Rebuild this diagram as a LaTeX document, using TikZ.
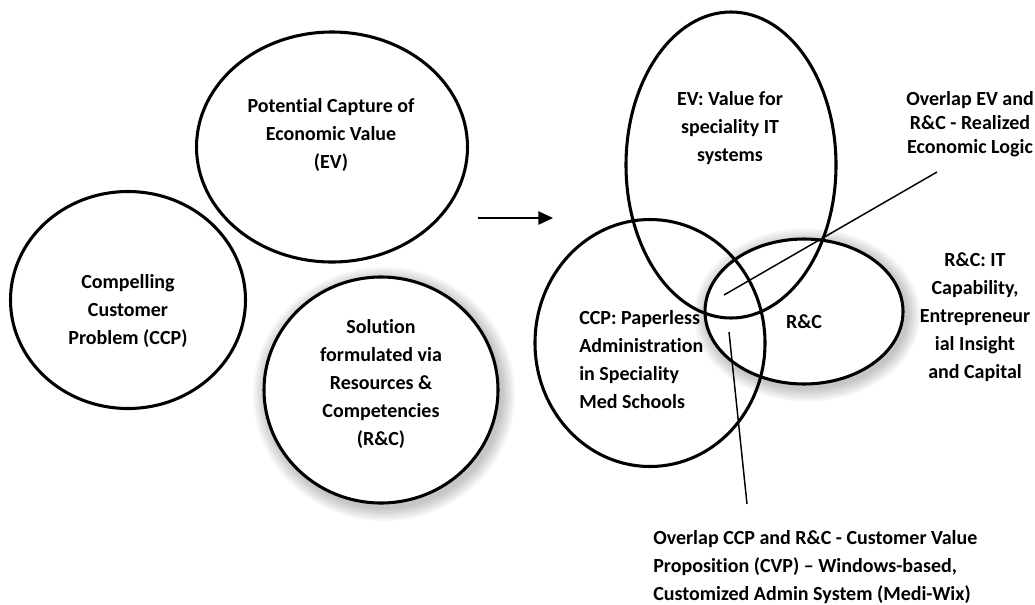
\documentclass[tikz,border=0pt]{standalone}
\usepackage{fontspec}
\setmainfont[Ligatures={TeX,NoCommon}]{Carlito}
\usetikzlibrary{shapes.geometric,arrows.meta}
\begin{document}
\begin{tikzpicture}[x=0.75pt,y=-0.75pt,
  venn/.style={ellipse,draw=black,line width=2.3pt,inner sep=0pt},
  shadowed/.style={fill=white},
  halo/.style={fill=black,opacity=0.035},
  lbl/.style={font=\bfseries\fontsize{15}{21}\selectfont,align=center,inner sep=0pt},
  lbltight/.style={font=\bfseries\fontsize{15}{18}\selectfont,align=center,inner sep=0pt},
  lblleft/.style={font=\bfseries\fontsize{15}{21}\selectfont,align=left,inner sep=0pt,anchor=west},
  pointer/.style={line width=1.1pt,draw=black}]
\useasboundingbox (0,0) rectangle (1035,604);
% soft halos (shadows)
\foreach \d in {2,4,...,14} {
  \fill[halo] (384,394) ellipse ({117+\d} and {113+\d});
  \fill[halo] (807,315) ellipse ({99+\d} and {72.5+\d});
}
% left group
\node[venn,shadowed,minimum width=234*0.75pt,minimum height=226*0.75pt] (rcL) at (381,390) {};
\node[venn,minimum width=271*0.75pt,minimum height=230*0.75pt] (evL) at (332,147) {};
\node[venn,minimum width=235*0.75pt,minimum height=217*0.75pt] (ccpL) at (128,300) {};
% right group
\node[venn,shadowed,minimum width=198*0.75pt,minimum height=145*0.75pt] (rcR) at (804,311.5) {};
\node[venn,minimum width=210*0.75pt,minimum height=306*0.75pt] (evR) at (731,165) {};
\node[venn,minimum width=230*0.75pt,minimum height=247*0.75pt] (ccpR) at (650,343) {};
% arrow
\coordinate (arrS) at (478,218);
\coordinate (arrE) at (553,218);
\draw[line width=1.1pt,-{Triangle[length=11pt,width=10pt]}] (arrS) -- (arrE);
% texts left
\node[lbl] (tEV) at (331,135) {Potential Capture of\\Economic Value\\(EV)};
\node[lbl] (tCCP) at (128,311) {Compelling\\Customer\\Problem (CCP)};
\node[lbl] (tRC) at (381,384) {Solution\\formulated via\\Resources \&\\Competencies\\(R\&C)};
% texts right
\node[lbl] (tEVR) at (730,128) {EV: Value for\\speciality IT\\systems};
\node[lbltight] (tOvEV) at (970,124) {Overlap EV and\\R\&C - Realized\\Economic Logic};
\node[lbl] (tRCR) at (975,317.5) {R\&C: IT\\Capability,\\Entrepreneur\\ial Insight\\and Capital};
\node[lblleft] (tCCPR) at (579,360) {CCP: Paperless\\Administration\\in Speciality\\Med Schools};
\node[lbl] (tRCin) at (804,322) {R\&C};
\node[lblleft] (tOvCCP) at (653,567) {Overlap CCP and R\&C - Customer Value\\Proposition (CVP) – Windows-based,\\Customized Admin System (Medi-Wix)};
% pointer lines
\coordinate (p1a) at (937,172);
\coordinate (p1b) at (724,295);
\coordinate (p2a) at (729,332);
\coordinate (p2b) at (747,504);
\draw[pointer] (p1a) -- (p1b);
\draw[pointer] (p2a) -- (p2b);
\end{tikzpicture}
\end{document}
